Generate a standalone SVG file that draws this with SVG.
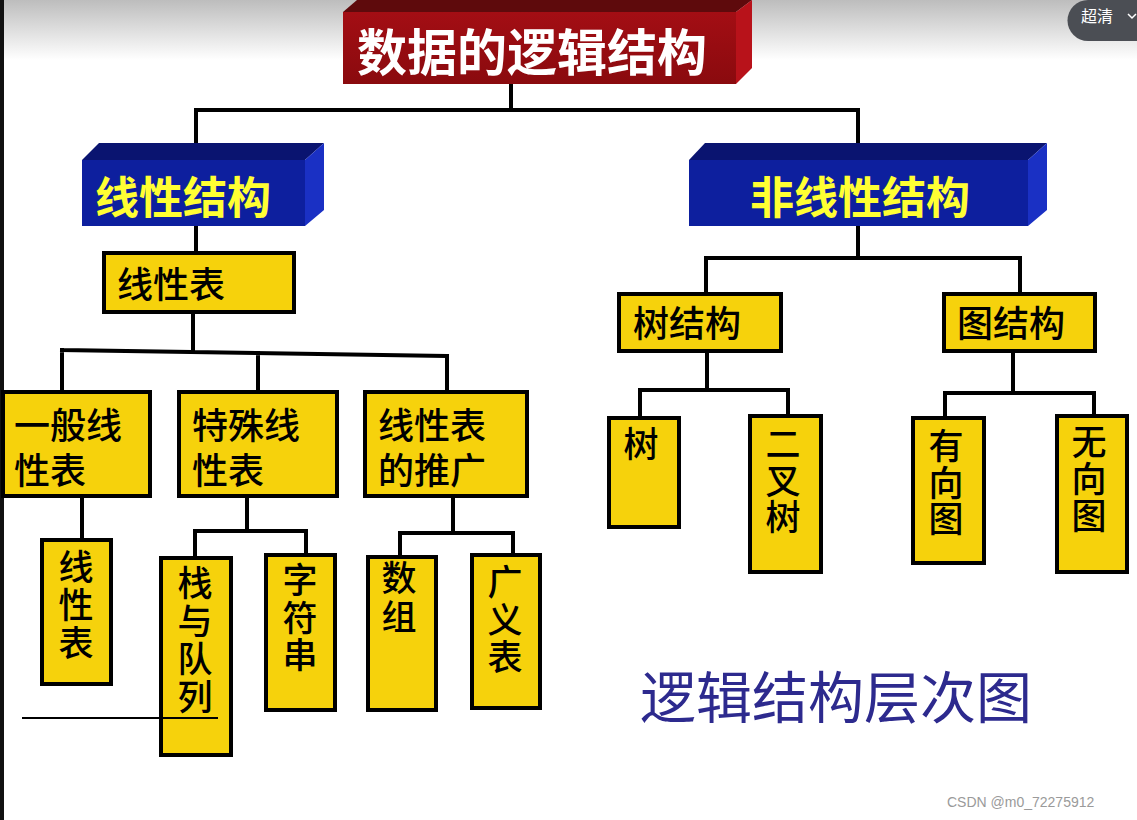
<svg xmlns="http://www.w3.org/2000/svg" width="1137" height="820" viewBox="0 0 1137 820">
<defs>
<linearGradient id="topfade" x1="0" y1="0" x2="0" y2="1">
<stop offset="0" stop-color="#bdbdbd"/>
<stop offset="1" stop-color="#ffffff"/>
</linearGradient>
<linearGradient id="redfront" x1="0" y1="0" x2="0" y2="1">
<stop offset="0" stop-color="#a30e14"/>
<stop offset="1" stop-color="#8a0a0e"/>
</linearGradient>
<style>
.cjk{font-family:"Noto Sans CJK SC","Noto Sans",sans-serif}
.box{fill:#f6d20c;stroke:#000;stroke-width:4}
.lbl{font-size:36px;fill:#000;font-weight:500}
.vt{font-size:35px;fill:#000;font-weight:500;writing-mode:vertical-rl;text-anchor:start}
.con{fill:none;stroke:#000;stroke-width:4;stroke-linecap:square}
.btop{fill:#0a1470}
.bfront{fill:#0d1f9e}
.bside{fill:#1a30c4}
.btxt{font-size:44px;font-weight:bold;fill:#ffff33}
</style>
</defs>
<rect x="0" y="0" width="1137" height="820" fill="#ffffff"/>
<rect x="0" y="0" width="1137" height="60" fill="url(#topfade)"/>
<rect x="0" y="0" width="4" height="820" fill="#111"/>

<g id="connectors">
<path class="con" d="M511,84 V110 M196,110 H858 M196,110 V147 M858,110 V147"/>
<path class="con" d="M196,226 V253"/>
<path class="con" d="M858,226 V258 M706,258 H1020 M706,258 V294 M1020,258 V294"/>
<path class="con" d="M193,312 V352 M62,350 L447,356 M62,350 V392 M258,353 V392 M447,356 V392"/>
<path class="con" d="M82,496 V540"/>
<path class="con" d="M247,496 V531 M195,531 H306 M195,531 V558 M306,531 V555"/>
<path class="con" d="M453,496 V533 M400,533 H513 M400,533 V557 M513,533 V555"/>
<path class="con" d="M707,351 V390 M640,390 H788 M640,390 V418 M788,390 V416"/>
<path class="con" d="M1013,351 V393 M945,393 H1094 M945,393 V418 M1094,393 V416"/>
</g>

<g id="title">
<polygon points="343,12 357,0 752,0 736,12" fill="#5e0a0c"/>
<rect x="343" y="12" width="393" height="72" fill="url(#redfront)"/>
<polygon points="736,12 752,0 752,68 736,84" fill="#b8121a"/>
<text class="cjk" x="357" y="71" font-size="50" font-weight="bold" fill="#ffffff">数据的逻辑结构</text>
</g>

<g id="linear">
<polygon class="btop" points="82,160 99,143 324,143 305,160"/>
<rect class="bfront" x="82" y="160" width="223" height="66"/>
<polygon class="bside" points="305,160 324,143 324,210 305,226"/>
<text class="cjk btxt" x="95" y="214">线性结构</text>
</g>

<g id="nonlinear">
<polygon class="btop" points="689,160 705,143 1047,143 1028,160"/>
<rect class="bfront" x="689" y="160" width="339" height="66"/>
<polygon class="bside" points="1028,160 1047,143 1047,210 1028,226"/>
<text class="cjk btxt" x="750" y="214">非线性结构</text>
</g>

<g id="linear-list">
<rect class="box" x="104" y="253" width="190" height="59"/>
<text class="cjk lbl" x="117" y="298">线性表</text>
</g>

<g id="general-list">
<rect class="box" x="3" y="392" width="147" height="104"/>
<text class="cjk lbl" x="14" y="439">一般线<tspan x="14" dy="45">性表</tspan></text>
</g>

<g id="special-list">
<rect class="box" x="179" y="392" width="158" height="104"/>
<text class="cjk lbl" x="192" y="439">特殊线<tspan x="192" dy="45">性表</tspan></text>
</g>

<g id="extended-list">
<rect class="box" x="365" y="392" width="162" height="104"/>
<text class="cjk lbl" x="378" y="439">线性表<tspan x="378" dy="45">的推广</tspan></text>
</g>

<g id="list-leaf">
<rect class="box" x="42" y="540" width="69" height="144"/>
<text class="cjk vt" x="76" y="549.5" letter-spacing="3">线性表</text>
</g>

<g id="stack-queue">
<rect class="box" x="161" y="558" width="70" height="197"/>
<text class="cjk vt" x="195" y="565.5" letter-spacing="3">栈与队列</text>
</g>

<g id="string">
<rect class="box" x="266" y="555" width="69" height="155"/>
<text class="cjk vt" x="300" y="562.5" letter-spacing="2.5">字符串</text>
</g>

<g id="array">
<rect class="box" x="368" y="557" width="68" height="153"/>
<text class="cjk vt" x="399" y="560.5" letter-spacing="4">数组</text>
</g>

<g id="glist">
<rect class="box" x="472" y="555" width="68" height="153"/>
<text class="cjk vt" x="505" y="564.5" letter-spacing="2.5">广义表</text>
</g>

<g id="tree-struct">
<rect class="box" x="619" y="294" width="162" height="57"/>
<text class="cjk lbl" x="633" y="337">树结构</text>
</g>

<g id="graph-struct">
<rect class="box" x="944" y="294" width="151" height="57"/>
<text class="cjk lbl" x="957" y="337">图结构</text>
</g>

<g id="tree">
<rect class="box" x="609" y="418" width="70" height="109"/>
<text class="cjk vt" x="641" y="426.5">树</text>
</g>

<g id="binary-tree">
<rect class="box" x="750" y="416" width="71" height="156"/>
<text class="cjk vt" x="783" y="426.5" letter-spacing="1.5">二叉树</text>
</g>

<g id="directed-graph">
<rect class="box" x="913" y="418" width="71" height="145"/>
<text class="cjk vt" x="946" y="428.5" letter-spacing="1.5">有向图</text>
</g>

<g id="undirected-graph">
<rect class="box" x="1057" y="416" width="70" height="156"/>
<text class="cjk vt" x="1089" y="424.5" letter-spacing="2">无向图</text>
</g>

<g id="overline">
<path d="M22,718 H218" stroke="#000" stroke-width="2" fill="none"/>
</g>

<text class="cjk" x="640" y="718" font-size="56" font-weight="400" fill="#2d2a8e">逻辑结构层次图</text>

<g id="badge">
<path d="M1088,0 H1137 V41 H1088 A20.5,20.5 0 0 1 1088,0 Z" fill="#4b4e54"/>
<text class="cjk" x="1081" y="22" font-size="16" fill="#ffffff">超清</text>
<polyline points="1128,14 1132,18 1136,14" fill="none" stroke="#ffffff" stroke-width="1.5"/>
</g>

<text x="947" y="807" font-family="Liberation Sans, Arial, sans-serif" font-size="14" fill="#9a9a9a">CSDN @m0_72275912</text>
</svg>
